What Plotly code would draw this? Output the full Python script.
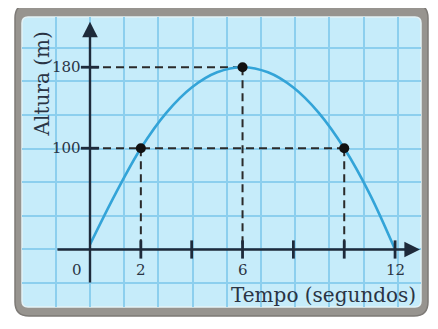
import plotly.graph_objects as go

# data
tempo = [0, 1, 2, 3, 4, 5, 6, 7, 8, 9, 10, 11, 12]
altura = [5, 55, 100, 135, 160, 175, 180, 175, 160, 135, 100, 55, 0]

pontos_t = [2, 6, 10]
pontos_h = [100, 180, 100]

x_ticks = [2, 4, 6, 8, 10, 12]
x_tick_labels = ["0", "2", "6", "12"]
x_tick_label_pos = [0, 2, 6, 12]
y_ticks = [100, 180]
y_tick_labels = ["100", "180"]

# page body has an 8px margin, so the figure is shifted by that much
OFF = 8
W, H = 438 - OFF, 329 - OFF
ML, MR, MT, MB = 22 - OFF, 17, 17 - OFF, 22
PW, PH = W - ML - MR, H - MT - MB

INK = "#1e2a3a"
TXT = "#2a3444"
FONT = "DejaVu Serif"


def rounded(px0, py0, px1, py1, r):
    # screen pixel box -> rounded path in paper coords
    def X(p):
        return (p - OFF - ML) / PW

    def Y(p):
        return (H - MB - (p - OFF)) / PH

    rx, ry = r / PW, r / PH
    x0, x1, y0, y1 = X(px0), X(px1), Y(py1), Y(py0)
    return (f"M {x0+rx} {y0} L {x1-rx} {y0} Q {x1} {y0} {x1} {y0+ry} "
            f"L {x1} {y1-ry} Q {x1} {y1} {x1-rx} {y1} L {x0+rx} {y1} "
            f"Q {x0} {y1} {x0} {y1-ry} L {x0} {y0+ry} Q {x0} {y0} {x0+rx} {y0} Z")


fig = go.Figure()

# dashed guide lines
gx, gy = [], []
for t, h in zip(pontos_t, pontos_h):
    gx += [t, t, None]
    gy += [h, 0, None]
for h in sorted(set(pontos_h)):
    gx += [0, max(t for t, hh in zip(pontos_t, pontos_h) if hh == h), None]
    gy += [h, h, None]
fig.add_trace(go.Scatter(x=gx, y=gy, mode="lines",
                         line=dict(color="#2a2a2a", width=2, dash="8px,5px"),
                         hoverinfo="skip"))

# curve
fig.add_trace(go.Scatter(x=tempo, y=altura, mode="lines",
                         line=dict(color="#33a4d8", width=2.6, shape="spline")))

# tick marks
fig.add_trace(go.Scatter(x=x_ticks, y=[0] * len(x_ticks), mode="markers",
                         marker=dict(symbol="line-ns-open", size=13, color=INK,
                                     line=dict(color=INK, width=2.8))))
fig.add_trace(go.Scatter(x=[0] * len(y_ticks), y=y_ticks, mode="markers",
                         marker=dict(symbol="line-ew-open", size=13, color=INK,
                                     line=dict(color=INK, width=2.8))))

# points
fig.add_trace(go.Scatter(x=pontos_t, y=pontos_h, mode="markers",
                         marker=dict(color="#111111", size=10)))

# axes with arrows
fig.add_annotation(x=0, y=225, ax=0, ay=-34, xref="x", yref="y", axref="x", ayref="y",
                   text="", showarrow=True, arrowhead=2, arrowsize=1.3,
                   arrowwidth=2.4, arrowcolor=INK)
fig.add_annotation(x=12.98, y=0, ax=-1.34, ay=0, xref="x", yref="y", axref="x", ayref="y",
                   text="", showarrow=True, arrowhead=2, arrowsize=1.3,
                   arrowwidth=2.4, arrowcolor=INK)

# tick labels
for pos, lab in zip(x_tick_label_pos, x_tick_labels):
    fig.add_annotation(x=pos if pos else -0.52, y=-20, text=lab, showarrow=False,
                       xanchor="center", yanchor="middle",
                       font=dict(family=FONT, size=15, color=TXT))
for pos, lab in zip(y_ticks, y_tick_labels):
    fig.add_annotation(x=-0.28, y=pos, text=lab, showarrow=False,
                       xanchor="right", yanchor="middle",
                       font=dict(family=FONT, size=15, color=TXT))

fig.add_annotation(x=12.92, y=-45, text="Tempo (segundos)", showarrow=False,
                   xanchor="right", yanchor="middle",
                   font=dict(family=FONT, size=20, color=TXT))
fig.add_annotation(x=-1.89, y=164, text="Altura (m)", showarrow=False, textangle=-90,
                   xanchor="center", yanchor="middle",
                   font=dict(family=FONT, size=20, color=TXT))

# frame and paper background
fig.add_shape(type="path", path=rounded(15, 4, 428, 316, 14), xref="paper", yref="paper",
              fillcolor="#97948f", line=dict(color="#7d7a76", width=1.5), layer="below")
fig.add_shape(type="path", path=rounded(22, 17, 421, 307, 6), xref="paper", yref="paper",
              fillcolor="#c6ecfa", line=dict(color="#e4f2f6", width=1.5), layer="below")

fig.update_xaxes(range=[-2.675, 13.02], tick0=0, dtick=1.345, showgrid=True,
                 gridcolor="#8ccfee", gridwidth=1.6, zeroline=False,
                 showticklabels=False, ticks="", showline=False, fixedrange=True)
fig.update_yaxes(range=[-56.8, 229.6], tick0=0, dtick=33.2, showgrid=True,
                 gridcolor="#8ccfee", gridwidth=1.6, zeroline=False,
                 showticklabels=False, ticks="", showline=False, fixedrange=True)

fig.update_layout(
    width=W, height=H,
    margin=dict(l=ML, r=MR, t=MT, b=MB),
    paper_bgcolor="white",
    plot_bgcolor="rgba(0,0,0,0)",
    showlegend=False,
)

fig.write_html("out.html")
